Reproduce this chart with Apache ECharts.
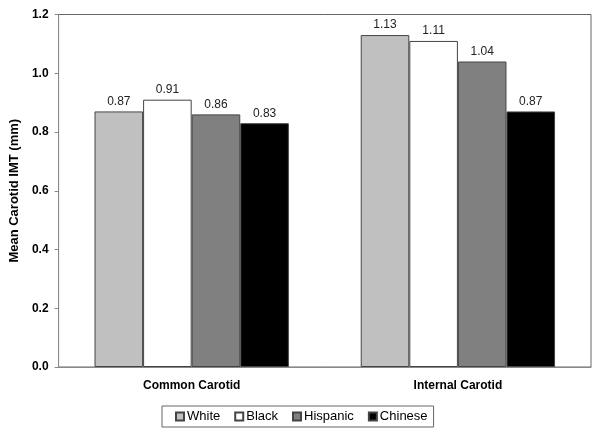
<!DOCTYPE html>
<html>
<head>
<meta charset="utf-8">
<script src="https://cdn.jsdelivr.net/npm/echarts@6/dist/echarts.min.js"></script>
<style>html,body{margin:0;padding:0;background:#fff}#c{width:602px;height:437px}</style>
</head>
<body>
<div id="c"></div>
<script>
const categories = ['Common Carotid', 'Internal Carotid'];
const seriesNames = ['White', 'Black', 'Hispanic', 'Chinese'];
const white = [0.87, 1.13];
const black = [0.91, 1.11];
const hispanic = [0.86, 1.04];
const chinese = [0.83, 0.87];
const yTicks = [0, 0.2, 0.4, 0.6, 0.8, 1.0, 1.2];

const values = [white, black, hispanic, chinese];
const colors = ['#c0c0c0', '#ffffff', '#808080', '#000000'];
const font = 'Liberation Sans, Arial, sans-serif';

const chart = echarts.init(document.getElementById('c'), null, {renderer: 'canvas'});
chart.setOption({
  animation: false,
  textStyle: {fontFamily: font},
  grid: {left: 58, right: 11, top: 14.5, bottom: 70, show: true, borderColor: '#666', borderWidth: 1, backgroundColor: 'transparent'},
  legend: {
    data: seriesNames,
    bottom: 10,
    left: 162,
    itemWidth: 8, itemHeight: 8, itemGap: 14,
    icon: 'rect',
    borderColor: '#666', borderWidth: 1,
    padding: [4, 6, 4, 13],
    textStyle: {fontSize: 13, color: '#000', fontFamily: font, padding: [0, 0, 0, -2]}
  },
  xAxis: {
    type: 'category',
    data: categories,
    axisLine: {lineStyle: {color: '#888'}},
    axisTick: {show: false},
    axisLabel: {fontWeight: 'bold', fontSize: 12, color: '#000', margin: 13}
  },
  yAxis: {
    type: 'value',
    min: yTicks[0], max: yTicks[yTicks.length - 1], interval: 0.2,
    name: 'Mean Carotid IMT (mm)',
    nameLocation: 'middle', nameGap: 37,
    nameTextStyle: {fontWeight: 'bold', fontSize: 13, color: '#000'},
    axisLine: {show: true, lineStyle: {color: '#888'}},
    axisTick: {show: true, inside: false, length: 4, lineStyle: {color: '#888'}},
    splitLine: {show: false},
    axisLabel: {fontWeight: 'bold', fontSize: 12, color: '#000', margin: 10, formatter: v => v.toFixed(1)}
  },
  series: seriesNames.map((n, i) => ({
    name: n,
    type: 'bar',
    data: values[i],
    barGap: '0%',
    barCategoryGap: '27%',
    itemStyle: {color: colors[i], borderColor: '#444', borderWidth: 1},
    label: {show: true, position: 'top', distance: 4, fontSize: 12, color: '#222', formatter: p => p.value.toFixed(2)}
  }))
});
</script>
</body>
</html>
